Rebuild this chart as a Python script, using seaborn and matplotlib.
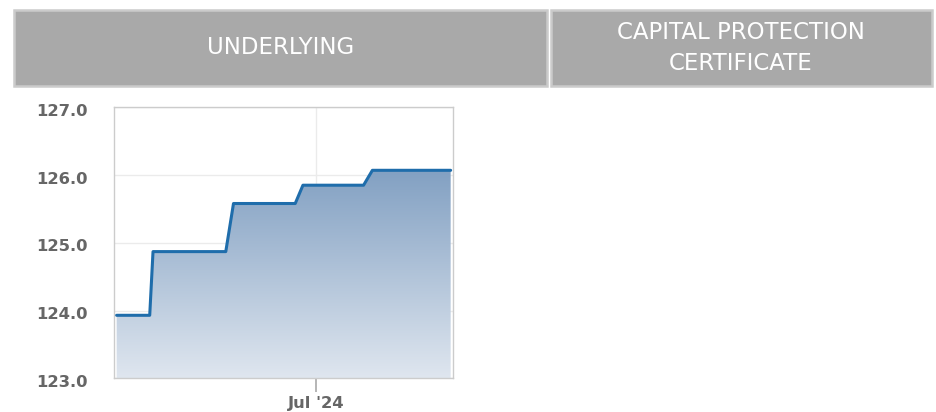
import matplotlib
matplotlib.use('Agg')
import matplotlib.pyplot as plt
import matplotlib.dates as mdates
import matplotlib.transforms as mtransforms
from matplotlib.patches import Rectangle
from matplotlib.colors import LinearSegmentedColormap
import seaborn as sns
import pandas as pd
import numpy as np

# Step points of the underlying level (end of each flat segment, start of the next)
dates = ['2024-01-02', '2024-02-01', '2024-02-04', '2024-04-10', '2024-04-17',
         '2024-06-12', '2024-06-19', '2024-08-13', '2024-08-21', '2024-10-31']
values = [123.93, 123.93, 124.87, 124.87, 125.58, 125.58, 125.85, 125.85, 126.07, 126.07]

header_left = 'UNDERLYING'
header_right = 'CAPITAL PROTECTION\nCERTIFICATE'
y_ticks = [123.0, 124.0, 125.0, 126.0, 127.0]
x_tick = '2024-07-01'
x_tick_label = "Jul '24"

df = pd.DataFrame({'date': pd.to_datetime(dates), 'value': values})

sns.set_style('white')
plt.rcParams['font.family'] = ['DejaVu Sans']

W, H = 936, 412
fig = plt.figure(figsize=(W / 100, H / 100), dpi=100)

# header boxes (pixel coordinates converted to figure fractions)
def box(x0, y0, x1, y1):
    fig.patches.append(Rectangle((x0 / W, 1 - y1 / H), (x1 - x0) / W, (y1 - y0) / H,
                                 transform=fig.transFigure, facecolor='#a9a9a9',
                                 edgecolor='#cbcbcb', linewidth=1.8))

box(14, 10, 547, 86)
box(551, 10, 932, 86)
fig.text(281 / W, 1 - 48 / H, header_left, color='white', fontsize=16.5,
         ha='center', va='center')
fig.text(741 / W, 1 - 48 / H, header_right, color='white', fontsize=16.5,
         ha='center', va='center', linespacing=1.4)

ax = fig.add_axes([114 / W, 1 - 378.3 / H, 339.3 / W, 271 / H])

x_start = df['date'].min() - pd.Timedelta(days=2.4)
x_end = df['date'].max() + pd.Timedelta(days=2.4)
ax.set_xlim(x_start, x_end)
ax.set_ylim(y_ticks[0], y_ticks[-1])

# gradient fill under the line
cmap = LinearSegmentedColormap.from_list('fill', ['#dfe6ef', '#7b9bbf'])
grad = np.linspace(0, 1, 256).reshape(-1, 1)
img = ax.imshow(grad, cmap=cmap, aspect='auto', origin='lower',
                extent=[mdates.date2num(x_start), mdates.date2num(x_end), y_ticks[0], 126.3],
                zorder=1)
poly = ax.fill_between(df['date'], df['value'], y_ticks[0], color='none', zorder=1)
img.set_clip_path(poly.get_paths()[0], transform=ax.transData)

sns.lineplot(data=df, x='date', y='value', ax=ax, color='#1f6dab', linewidth=2.2, zorder=3)

ax.set_xlabel('')
ax.set_ylabel('')
ax.set_yticks(y_ticks)
ax.set_yticklabels([f'{v:.1f}' for v in y_ticks])
ax.set_xticks([mdates.date2num(pd.Timestamp(x_tick))])
ax.set_xticklabels([x_tick_label])
ax.grid(True, color='#ebebeb', linewidth=1, zorder=0)
ax.set_axisbelow(True)
ax.tick_params(axis='y', length=0, pad=19, labelsize=11.8, labelcolor='#666666')
ax.tick_params(axis='x', bottom=True, length=10, width=1.3, color='#b0b0b0', pad=3,
               labelsize=11.8, labelcolor='#666666')
shift = mtransforms.ScaledTranslation(0, -2.5 / 100, fig.dpi_scale_trans)
for lab in ax.get_xticklabels() + ax.get_yticklabels():
    lab.set_fontweight('bold')
for lab in ax.get_yticklabels():
    lab.set_transform(lab.get_transform() + shift)
for s in ax.spines.values():
    s.set_color('#cccccc')
    s.set_linewidth(1)

fig.savefig('out.png', dpi=100)
